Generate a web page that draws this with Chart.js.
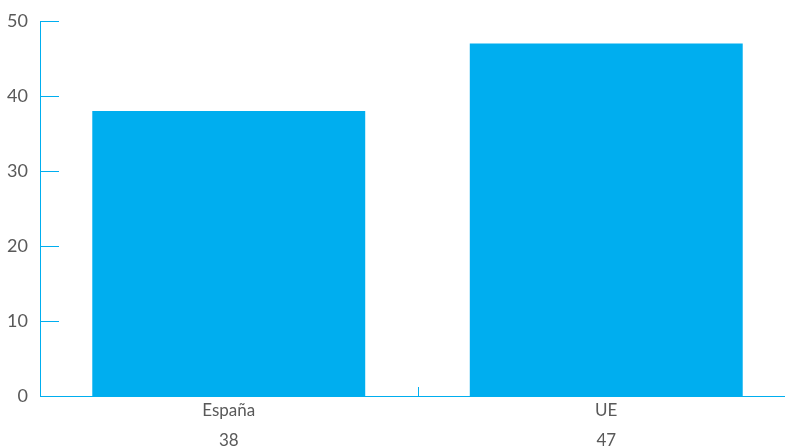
<!DOCTYPE html>
<html>
<head>
<meta charset="utf-8">
<script src="https://cdn.jsdelivr.net/npm/chart.js@4/dist/chart.umd.min.js"></script>
<style>
    html, body { margin: 0; padding: 0; background: #fff; overflow: hidden; }
    #wrap { width: 795px; height: 448px; }
</style>
</head>
<body>
<div id="wrap"><canvas id="chart" width="795" height="448"></canvas></div>
<script>
// Data
const categories = ['España', 'UE'];
const values = [38, 47];
const yTicks = [0, 10, 20, 30, 40, 50];

const cyan = '#00AEEF';
const textGray = '#595959';

// short tick marks drawn inside the plot area
const innerTicks = {
    id: 'innerTicks',
    afterDraw(chart) {
        const ctx = chart.ctx;
        const x = chart.scales.x;
        const y = chart.scales.y;
        ctx.save();
        ctx.strokeStyle = cyan;
        ctx.lineWidth = 1;
        yTicks.forEach(v => {
            const py = Math.round(y.getPixelForValue(v)) + 0.5;
            ctx.beginPath();
            ctx.moveTo(x.left, py);
            ctx.lineTo(x.left + 19, py);
            ctx.stroke();
        });
        for (let i = 0; i < categories.length - 1; i++) {
            const px = Math.round((x.getPixelForValue(i) + x.getPixelForValue(i + 1)) / 2) + 0.5;
            ctx.beginPath();
            ctx.moveTo(px, y.bottom);
            ctx.lineTo(px, y.bottom - 9);
            ctx.stroke();
        }
        ctx.restore();
    }
};

function createChart() {
    const ctx = document.getElementById('chart').getContext('2d');
    new Chart(ctx, {
        type: 'bar',
        data: {
            labels: categories.map((c, i) => [c, String(values[i])]),
            datasets: [{
                data: values,
                backgroundColor: cyan,
                borderWidth: 0,
                categoryPercentage: 1,
                barPercentage: 0.723
            }]
        },
        options: {
            responsive: false,
            animation: false,
            layout: { padding: { top: 21, left: 0, right: 0, bottom: 0 } },
            plugins: {
                legend: { display: false },
                tooltip: { enabled: false }
            },
            scales: {
                x: {
                    grid: { display: false, drawTicks: false },
                    border: { display: true, color: cyan, width: 1 },
                    ticks: {
                        color: textGray,
                        padding: 0,
                        font: { family: 'Lato', size: 17, lineHeight: 1.75 }
                    },
                    afterFit(scale) {
                        scale.height = 52;
                        scale.paddingLeft = 0;
                        scale.paddingRight = 0;
                    }
                },
                y: {
                    min: 0,
                    max: 50,
                    grid: { display: false, drawTicks: false },
                    border: { display: true, color: cyan, width: 1 },
                    afterBuildTicks(scale) {
                        scale.ticks = yTicks.map(v => ({ value: v }));
                    },
                    ticks: {
                        color: textGray,
                        padding: 12,
                        font: { family: 'Lato', size: 18 }
                    },
                    afterFit(scale) {
                        scale.width = 40;
                        scale.paddingTop = 0;
                        scale.paddingBottom = 0;
                    }
                }
            }
        },
        plugins: [innerTicks]
    });
}

document.addEventListener('DOMContentLoaded', () => {
    createChart();
});
</script>
</body>
</html>
